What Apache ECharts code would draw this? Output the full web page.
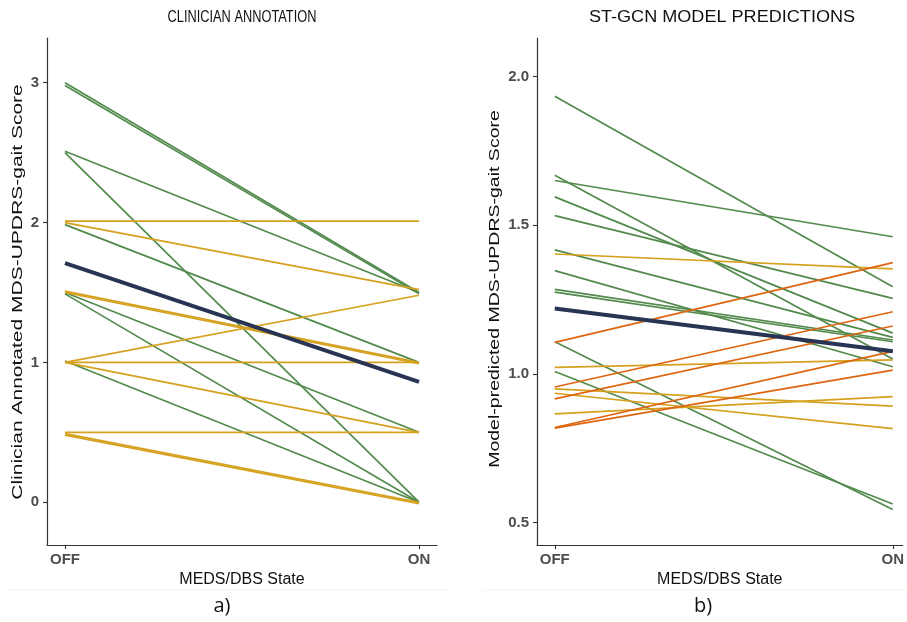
<!DOCTYPE html>
<html>
<head>
<meta charset="utf-8">
<script src="https://cdn.jsdelivr.net/npm/echarts@6/dist/echarts.min.js"></script>
<style>html,body{margin:0;padding:0;background:#fff}#c{width:907px;height:622px}</style>
</head>
<body>
<div id="c"></div>
<script>
// ---- data ----
const xLabels = ['OFF', 'ON'];
const leftYTicks = [0, 1, 2, 3];
const rightYTicks = [0.5, 1.0, 1.5, 2.0];

// Panel a) clinician annotation: OFF -> ON per subject
const leftGreenOff = [3.00, 2.98, 2.51, 2.50, 1.985, 1.50, 1.49, 1.01];
const leftGreenOn  = [1.50, 1.49, 1.50, 0.00, 1.00, 0.50, 0.00, 0.00];
const leftYellowOff = [2.01, 2.00, 1.51, 1.50, 1.00, 1.00, 1.00, 0.50, 0.49, 0.48];
const leftYellowOn  = [2.01, 1.52, 1.00, 0.99, 1.48, 1.00, 0.50, 0.50, 0.00, -0.01];
const leftMean = [1.71, 0.86];

// Panel b) ST-GCN model predictions
const rightGreenOff = [1.933, 1.668, 1.650, 1.595, 1.532, 1.417, 1.347, 1.284, 1.275, 1.108, 1.008];
const rightGreenOn  = [1.293, 1.050, 1.461, 1.137, 1.254, 1.123, 1.024, 1.114, 1.108, 0.544, 0.563];
const rightYellowOff = [1.403, 1.022, 0.950, 0.935, 0.866];
const rightYellowOn  = [1.353, 1.047, 0.892, 0.816, 0.924];
const rightOrangeOff = [1.106, 0.956, 0.916, 0.820, 0.818];
const rightOrangeOn  = [1.374, 1.209, 1.161, 1.076, 1.013];
const rightMean = [1.220, 1.076];

// ---- styles ----
const GREEN = '#528a4c', YELLOW = '#d5a11e', ORANGE = '#de6510', NAVY = '#283453';
const FONT = '"Liberation Sans", Arial, sans-serif';

const series = [];
function addPairs(off, on, color, idx, width) {
  for (let i = 0; i < off.length; i++) {
    series.push({
      type: 'line', xAxisIndex: idx, yAxisIndex: idx,
      data: [[0, off[i]], [1, on[i]]],
      symbol: 'none', silent: true, animation: false,
      lineStyle: { color: color, width: width }
    });
  }
}
addPairs(leftGreenOff, leftGreenOn, GREEN, 0, 1.7);
addPairs(leftYellowOff, leftYellowOn, YELLOW, 0, 1.7);
addPairs([leftMean[0]], [leftMean[1]], NAVY, 0, 4);
addPairs(rightGreenOff, rightGreenOn, GREEN, 1, 1.7);
addPairs(rightYellowOff, rightYellowOn, YELLOW, 1, 1.7);
addPairs(rightOrangeOff, rightOrangeOn, ORANGE, 1, 1.7);
addPairs([rightMean[0]], [rightMean[1]], NAVY, 1, 4);

const axisLine = { show: true, onZero: false, lineStyle: { color: '#333', width: 1.2 } };
const axisTick = { show: true, length: 4, lineStyle: { color: '#333', width: 1.1 } };
const labelStyle = { color: '#4d4d4d', fontWeight: 'bold', fontSize: 15, fontFamily: FONT };
const nameStyle = { color: '#111', fontSize: 16, fontFamily: FONT };

function xAx(idx, min, max) {
  return {
    type: 'value', gridIndex: idx, min: min, max: max,
    axisLine: axisLine,
    axisTick: Object.assign({ customValues: [0, 1] }, axisTick),
    axisLabel: Object.assign({ customValues: [0, 1], margin: 7, formatter: v => xLabels[Math.round(v)] }, labelStyle),
    splitLine: { show: false },
    name: 'MEDS/DBS State', nameLocation: 'middle', nameGap: 25, nameTextStyle: nameStyle
  };
}

const option = {
  backgroundColor: '#fff',
  animation: false,
  grid: [
    { left: 47, top: 38, width: 390, height: 507 },
    { left: 537, top: 38, width: 370, height: 507 }
  ],
  xAxis: [xAx(0, -0.0508, 1.0508), xAx(1, -0.0526, 1.0292)],
  yAxis: [
    {
      type: 'value', gridIndex: 0, min: -0.306, max: 3.32,
      axisLine: axisLine,
      axisTick: Object.assign({ customValues: leftYTicks }, axisTick),
      axisLabel: Object.assign({ customValues: leftYTicks, margin: 8, formatter: v => String(v) }, labelStyle),
      splitLine: { show: false }
    },
    {
      type: 'value', gridIndex: 1, min: 0.425, max: 2.129,
      axisLine: axisLine,
      axisTick: Object.assign({ customValues: rightYTicks }, axisTick),
      axisLabel: Object.assign({ customValues: rightYTicks, margin: 8, formatter: v => v.toFixed(1) }, labelStyle),
      splitLine: { show: false }
    }
  ],
  graphic: [
    { type: 'text', x: 242, y: 18, scaleX: 0.8, style: { text: 'CLINICIAN ANNOTATION', fill: '#111', font: '16px ' + FONT, textAlign: 'center', textVerticalAlign: 'middle' } },
    { type: 'text', x: 722, y: 18, scaleX: 1.13, style: { text: 'ST-GCN MODEL PREDICTIONS', fill: '#111', font: '16px ' + FONT, textAlign: 'center', textVerticalAlign: 'middle' } },
    { type: 'text', x: 18, y: 292, rotation: Math.PI / 2, scaleX: 1.4,
      style: { text: 'Clinician Annotated MDS-UPDRS-gait Score', fill: '#111', font: '15px ' + FONT, textAlign: 'center', textVerticalAlign: 'middle' } },
    { type: 'text', x: 495, y: 289, rotation: Math.PI / 2, scaleX: 1.3,
      style: { text: 'Model-predicted MDS-UPDRS-gait Score', fill: '#111', font: '15px ' + FONT, textAlign: 'center', textVerticalAlign: 'middle' } },
    { type: 'line', shape: { x1: 5, y1: 590, x2: 447, y2: 590 }, style: { stroke: '#f6f6e6', lineWidth: 1 } },
    { type: 'line', shape: { x1: 482, y1: 590, x2: 907, y2: 590 }, style: { stroke: '#f6f6e6', lineWidth: 1 } },
    { type: 'text', x: 222, y: 606, style: { text: 'a)', fill: '#111', font: '20px "Open Sans", sans-serif', textAlign: 'center', textVerticalAlign: 'middle' } },
    { type: 'text', x: 703, y: 606, style: { text: 'b)', fill: '#111', font: '20px "Open Sans", sans-serif', textAlign: 'center', textVerticalAlign: 'middle' } }
  ],
  series: series
};

const chart = echarts.init(document.getElementById('c'), null, { renderer: 'canvas' });
chart.setOption(option);
</script>
</body>
</html>
